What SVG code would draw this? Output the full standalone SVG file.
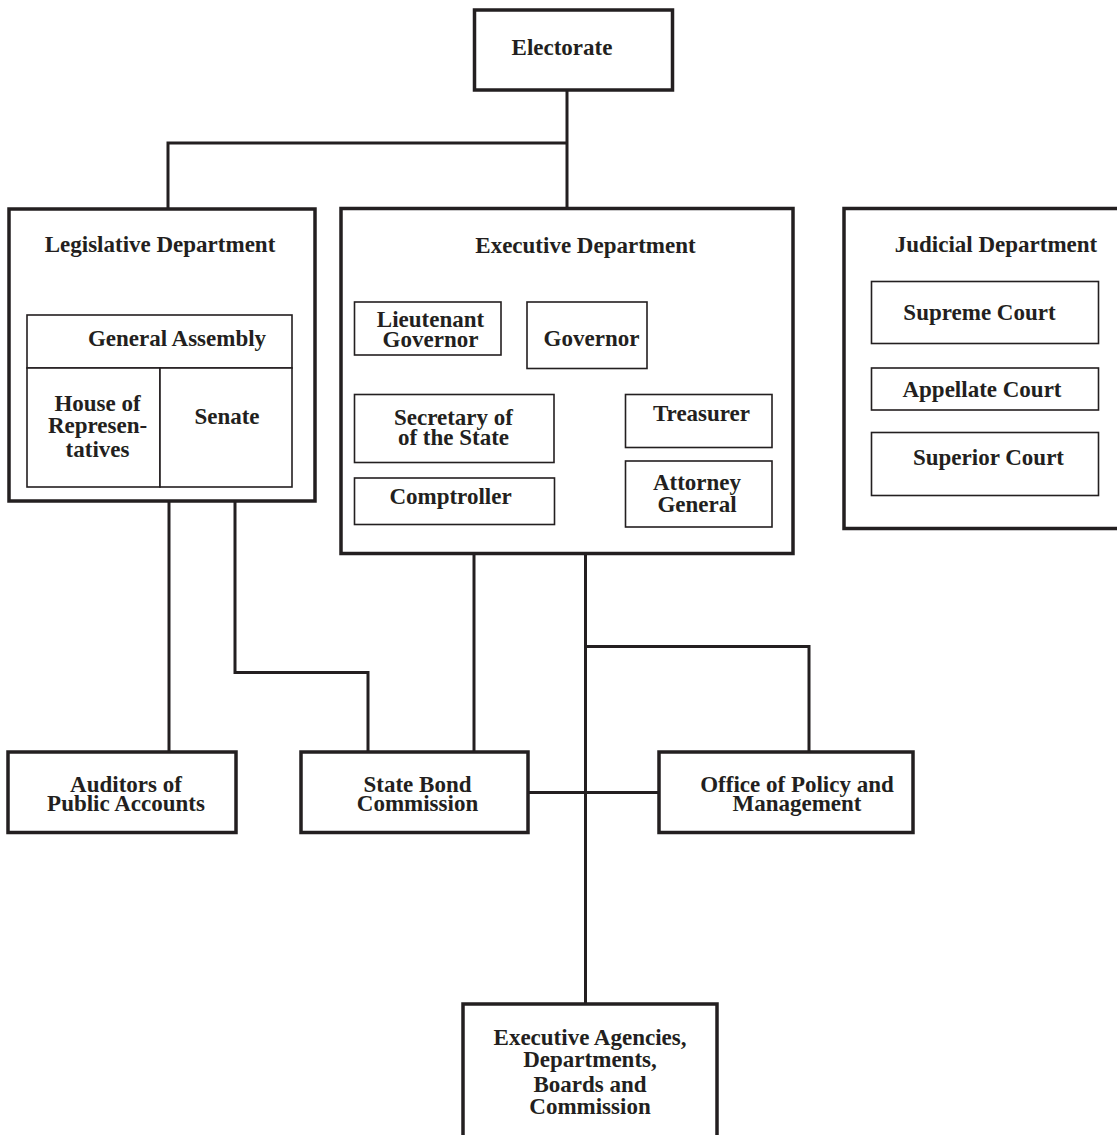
<svg xmlns="http://www.w3.org/2000/svg" width="1117" height="1135" viewBox="0 0 1117 1135">
<style>
text{font-family:"Liberation Serif","Times New Roman",serif;font-weight:bold;font-size:23px;fill:#231f20;text-anchor:middle}
.outer{fill:#fff;stroke:#231f20;stroke-width:3.5}
.inner{fill:#fff;stroke:#231f20;stroke-width:1.6}
.conn{fill:none;stroke:#231f20;stroke-width:3}
</style>
<rect width="1117" height="1135" fill="#fff"/>
<g id="connectors">
<path class="conn" d="M567,90 V208 M567,143 H168 V208"/>
<path class="conn" d="M169,501 V752"/>
<path class="conn" d="M235,501 V672.5 H368 V752"/>
<path class="conn" d="M474,553 V752"/>
<path class="conn" d="M585.5,368 V1004"/>
<path class="conn" d="M585.5,646.5 H809 V752"/>
<path class="conn" d="M528,792.5 H659"/>
</g>
<g id="electorate">
<rect class="outer" x="474.5" y="10" width="198" height="80"/>
<text x="562" y="55">Electorate</text>
</g>
<g id="legislative">
<rect class="outer" x="9" y="209" width="306" height="292"/>
<text x="160" y="252">Legislative Department</text>
</g>
<g id="general-assembly">
<rect class="inner" x="27" y="315" width="265" height="53"/>
<text x="177" y="346">General Assembly</text>
</g>
<g id="house">
<rect class="inner" x="27" y="368" width="133" height="119"/>
<text x="97.5" y="411">House of</text>
<text x="97.5" y="433">Represen-</text>
<text x="97.5" y="456.5">tatives</text>
</g>
<g id="senate">
<rect class="inner" x="160" y="368" width="132" height="119"/>
<text x="227" y="424">Senate</text>
</g>
<g id="executive">
<rect class="outer" x="341" y="208.5" width="452" height="345"/>
<text x="585.5" y="253">Executive Department</text>
</g>
<g id="lt-governor">
<rect class="inner" x="354.5" y="302" width="146.5" height="53"/>
<text x="430.5" y="326.5">Lieutenant</text>
<text x="430.5" y="346.5">Governor</text>
</g>
<g id="governor">
<rect class="inner" x="527" y="302" width="120" height="66.5"/>
<text x="591.5" y="345.5">Governor</text>
</g>
<g id="secretary">
<rect class="inner" x="354.5" y="394.5" width="199.5" height="68"/>
<text x="453.5" y="425">Secretary of</text>
<text x="453.5" y="445">of the State</text>
</g>
<g id="comptroller">
<rect class="inner" x="354.5" y="478" width="200" height="46.5"/>
<text x="450.5" y="504">Comptroller</text>
</g>
<g id="treasurer">
<rect class="inner" x="625.5" y="394.5" width="146.5" height="53"/>
<text x="701.5" y="420.5">Treasurer</text>
</g>
<g id="attorney-general">
<rect class="inner" x="625.5" y="461" width="146.5" height="66"/>
<text x="697" y="490">Attorney</text>
<text x="697" y="511.5">General</text>
</g>
<g id="judicial">
<rect class="outer" x="844" y="208.5" width="290" height="320"/>
<text x="996" y="251.5">Judicial Department</text>
</g>
<g id="supreme-court">
<rect class="inner" x="871.5" y="281.5" width="227" height="62"/>
<text x="979.5" y="320">Supreme Court</text>
</g>
<g id="appellate-court">
<rect class="inner" x="871.5" y="368" width="227" height="42"/>
<text x="982" y="396.5">Appellate Court</text>
</g>
<g id="superior-court">
<rect class="inner" x="871.5" y="432.5" width="227" height="63"/>
<text x="988.5" y="465">Superior Court</text>
</g>
<g id="auditors">
<rect class="outer" x="8" y="752" width="228" height="80.5"/>
<text x="126" y="792">Auditors of</text>
<text x="126" y="811">Public Accounts</text>
</g>
<g id="state-bond">
<rect class="outer" x="301" y="752" width="227" height="80.5"/>
<text x="417.5" y="792">State Bond</text>
<text x="417.5" y="811">Commission</text>
</g>
<g id="opm">
<rect class="outer" x="659" y="752" width="254" height="80.5"/>
<text x="797" y="791.5">Office of Policy and</text>
<text x="797" y="810.5">Management</text>
</g>
<g id="agencies">
<rect class="outer" x="463" y="1004" width="254" height="160"/>
<text x="590" y="1045">Executive Agencies,</text>
<text x="590" y="1067">Departments,</text>
<text x="590" y="1091.5">Boards and</text>
<text x="590" y="1114">Commission</text>
</g>
</svg>
